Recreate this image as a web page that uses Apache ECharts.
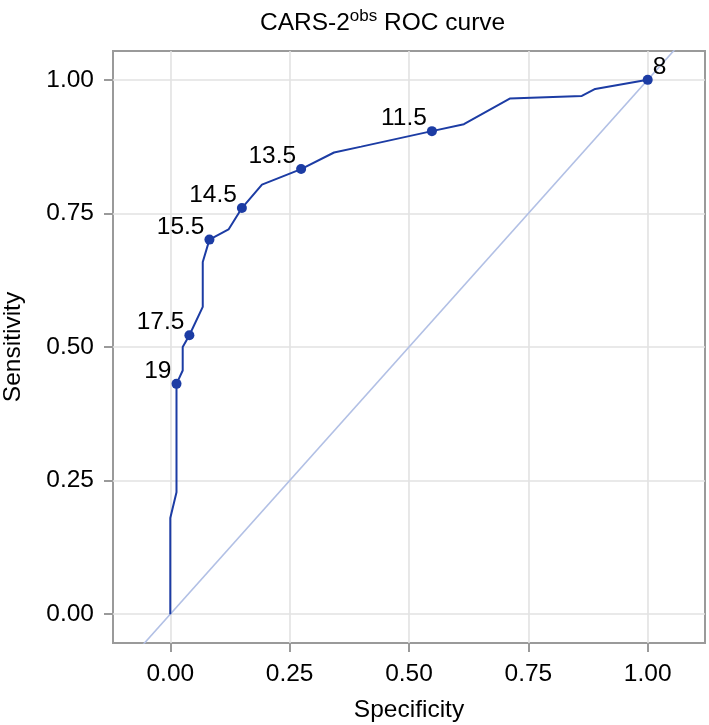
<!DOCTYPE html>
<html><head><meta charset="utf-8">
<script src="https://cdn.jsdelivr.net/npm/echarts@6/dist/echarts.min.js"></script>
<style>html,body{margin:0;padding:0;background:#fff}#c{width:709px;height:725px}</style>
</head><body><div id="c"></div>
<script>
// ROC curve vertices (specificity, sensitivity)
const specificity = [0, 0, 0.013, 0.013, 0.026, 0.026, 0.040, 0.068, 0.068, 0.082, 0.122, 0.150, 0.192, 0.274, 0.343, 0.400, 0.548, 0.615, 0.711, 0.862, 0.890, 1.0];
const sensitivity = [0, 0.180, 0.228, 0.431, 0.456, 0.500, 0.522, 0.575, 0.659, 0.701, 0.720, 0.760, 0.804, 0.833, 0.864, 0.875, 0.904, 0.917, 0.965, 0.970, 0.983, 1.0];
// labelled cut-off points
const cutoffLabels = ['19', '17.5', '15.5', '14.5', '13.5', '11.5', '8'];
const cutoffSpecificity = [0.013, 0.040, 0.082, 0.150, 0.274, 0.548, 1.0];
const cutoffSensitivity = [0.431, 0.522, 0.701, 0.760, 0.833, 0.904, 1.0];
// axis ticks
const tickValues = [0, 0.25, 0.5, 0.75, 1];
const tickLabels = ['0.00', '0.25', '0.50', '0.75', '1.00'];
// reference diagonal endpoints
const referenceLine = [-0.2, 1.2];

const FONT = '"Liberation Sans", Arial, Helvetica, sans-serif';
const FS = 24.5;
const curveColor = '#1c3ca4';
const fmt = v => { const i = tickValues.findIndex(t => Math.abs(t - v) < 1e-9); return i >= 0 ? tickLabels[i] : ''; };

const chart = echarts.init(document.getElementById('c'), null, {renderer: 'canvas'});
const axisCommon = {
  type: 'value',
  nameLocation: 'middle',
  nameTextStyle: {fontSize: FS, color: '#000', fontFamily: FONT},
  axisLine: {show: false, onZero: false},
  axisTick: {show: true, length: 9, customValues: tickValues, lineStyle: {color: '#9a9a9a', width: 2}},
  axisLabel: {customValues: tickValues, formatter: fmt, fontSize: FS, color: '#000', fontFamily: FONT, margin: 19},
  splitLine: {show: true, lineStyle: {color: '#e2e2e2', width: 1.6}}
};
chart.setOption({
  animation: false,
  backgroundColor: '#fff',
  title: {
    text: '{t|CARS-2}{s|obs}{t| ROC curve}',
    left: 260, top: 8, padding: 0,
    textStyle: {rich: {
      t: {fontSize: FS, color: '#000', fontFamily: FONT, fontWeight: 'normal', lineHeight: 30},
      s: {fontSize: 17, color: '#000', fontFamily: FONT, fontWeight: 'normal', verticalAlign: 'top', lineHeight: 18}
    }}
  },
  grid: {left: 113, right: 4, top: 51, bottom: 82, show: true, borderColor: '#9a9a9a', borderWidth: 2,
         containLabel: false, outerBoundsMode: 'none'},
  xAxis: Object.assign({}, axisCommon, {min: -0.12, max: 1.12, name: 'Specificity', nameGap: 55}),
  yAxis: Object.assign({}, axisCommon, {min: -0.054, max: 1.054, name: 'Sensitivity', nameGap: 87}),
  series: [
    {
      type: 'line', data: referenceLine.map(v => [v, v]), symbol: 'none', clip: true,
      lineStyle: {color: '#b2c0e5', width: 1.6}, z: 1, silent: true
    },
    {
      type: 'line', data: specificity.map((s, i) => [s, sensitivity[i]]), symbol: 'none', clip: true,
      lineStyle: {color: curveColor, width: 2}, z: 2
    },
    {
      type: 'scatter', symbolSize: 10, itemStyle: {color: curveColor, opacity: 1}, z: 3,
      data: cutoffLabels.map((lab, i) => {
        const right = cutoffSpecificity[i] >= 0.99;
        return {
          value: [cutoffSpecificity[i], cutoffSensitivity[i]],
          name: lab,
          label: {
            show: true, formatter: lab, fontSize: FS, color: '#000', fontFamily: FONT,
            position: right ? [10, 5] : [0, 5],
            align: right ? 'left' : 'right', verticalAlign: 'bottom'
          }
        };
      })
    }
  ]
});
</script>
</body></html>
